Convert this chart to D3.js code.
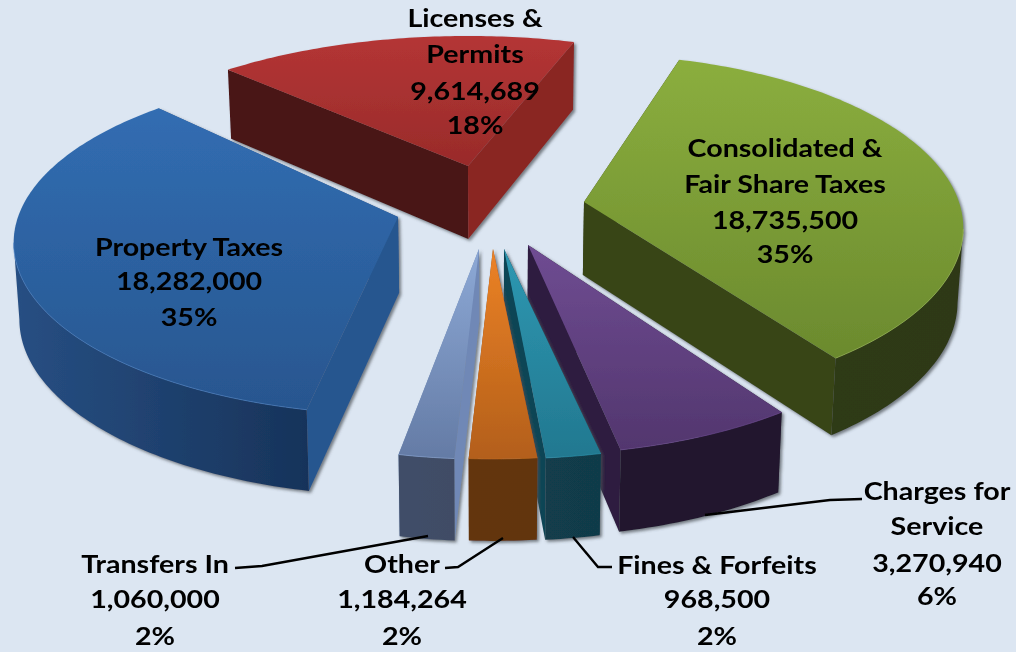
<!DOCTYPE html>
<html><head><meta charset="utf-8">
<script src="https://cdn.jsdelivr.net/npm/d3@7/dist/d3.min.js"></script>
<style>html,body{margin:0;padding:0;background:#dce6f2;overflow:hidden}svg{display:block}</style>
</head><body><div id="chart"></div>
<script>
// ---- data ----
const categories = ["Consolidated & Fair Share Taxes","Charges for Service","Fines & Forfeits","Other","Transfers In","Property Taxes","Licenses & Permits"];
const values = [18735500,3270940,968500,1184264,1060000,18282000,9614689];
const percentLabels = ["35%","6%","2%","2%","2%","35%","18%"];
const nameLines = [["Consolidated &","Fair Share Taxes"],["Charges for","Service"],["Fines & Forfeits"],["Other"],["Transfers In"],["Property Taxes"],["Licenses &","Permits"]];

// ---- layout of the exploded 3D projection (not data) ----
const W=1016,H=652,pieStart=19.4*Math.PI/180;
const geom = [
 {ax:584,ay:202,rx:375,ry:170,p:.15,rot:-2.5,h:73},
 {ax:528,ay:245,rx:372,ry:160.6,p:.235,rot:.4,h:73},
 {ax:504,ay:249,rx:376,ry:160.6,p:.235,rot:0,h:73},
 {ax:493,ay:249,rx:376,ry:160.6,p:.235,rot:-.3,h:73},
 {ax:479,ay:249,rx:345,ry:160.6,p:.235,rot:0,h:73},
 {ax:398,ay:217,rx:380,ry:168,p:.15,rot:1.5,h:76},
 {ax:468,ay:166,rx:390,ry:160.6,p:.235,rot:0,h:73}
];
const styles = [
 {top:["#8bae3e","#6b8a2e"],start:"#384517",end:"#384517",rim:["#2f3a14","#2e3913"],edge:"#9dbb55"},
 {top:["#6f4c92","#52366e"],start:"#2d1c3f",end:"#2d1c3f",rim:["#21172f","#20162d"],edge:"#6f4c92"},
 {top:["#2e98b2","#227890"],start:"#0f4555",end:"#0f4555",rim:["#123d4c","#113a49"],edge:"#2e98b2"},
 {top:["#ec8226","#b35f1a"],start:"#8a4a12",end:"#8a4a12",rim:["#63350f","#62340e"],edge:"#c06a1e"},
 {top:["#8da9d6","#647ba5"],start:"#6f88b6",end:"#6f88b6",rim:["#3f4e68","#3f4c65"],edge:"#8da9d6"},
 {top:["#316db2","#28568f"],start:"#27578f",end:"#27578f",rim:["#274f83","#17335a"],edge:"#4f86c8"},
 {top:["#b43535","#992b2a"],start:"#4a1212",end:"#8a2523",rim:["#4a1212","#8a2523"],edge:"#b43535"}
];
const drawOrder=[6,0,5,1,4,2,3];
const labelPos=[
 {x:785,ys:[157,193,229,263]},
 {x:937,ys:[500,535,572,605]},
 {x:717,ys:[574,608,645]},
 {x:402,ys:[573,608,645]},
 {x:155,ys:[573,608,645]},
 {x:189,ys:[256,290,326]},
 {x:475,ys:[27,63,100,134]}
];
const leaders=[
 [[862,499],[830,500],[705,515]],
 [[612,567],[598,567],[573,537]],
 [[445,568],[458,567],[503,538]],
 [[235,568],[262,566],[428,536]]
];
const LEAN_X=490,LEAN=.012,TEXT_STRETCH=1.145;

const svg=d3.select("#chart").append("svg").attr("width",W).attr("height",H);
svg.append("rect").attr("width",W).attr("height",H).attr("fill","#dce6f2");
const defs=svg.append("defs");
defs.append("filter").attr("id","soft").attr("x","-5%").attr("y","-5%").attr("width","110%").attr("height","110%")
  .append("feGaussianBlur").attr("stdDeviation",.45);
const sh=defs.append("filter").attr("id","shadow").attr("x","-10%").attr("y","-10%").attr("width","120%").attr("height","120%");
sh.append("feDropShadow").attr("dx",2).attr("dy",2).attr("stdDeviation",1.8).attr("flood-color","#4a4f55").attr("flood-opacity",.7);

function grad(id,c,horizontal){
  const g=defs.append("linearGradient").attr("id",id).attr("x1",0).attr("y1",0).attr("x2",horizontal?1:0).attr("y2",horizontal?0:1);
  g.append("stop").attr("offset",0).attr("stop-color",c[0]);
  g.append("stop").attr("offset",1).attr("stop-color",c[1]);
}
styles.forEach((s,i)=>{grad("top"+i,s.top,false);grad("rim"+i,s.rim,true);});

const arcs=d3.pie().sort(null).value(d=>d).startAngle(pieStart).endAngle(pieStart+2*Math.PI)(values);
const line=d3.line();
const root=svg.append("g").attr("filter","url(#soft)");

function project(g){
  const sx=d3.scaleLinear().domain([-1,1]).range([g.ax-g.rx,g.ax+g.rx]);
  const sy=d3.scaleLinear().domain([-1,1]).range([g.ay-g.ry,g.ay+g.ry]);
  const top=t=>{const u=Math.sin(t),v=-Math.cos(t),w=1/(1-g.p*v);return {x:sx(u*w),y:sy(v*w),w};};
  const down=q=>[q.x+(LEAN_X-q.x)*LEAN,q.y+q.h];
  return {top,down,hAt:w=>g.h*(1+.4*(w-1)),apexTop:[g.ax,g.ay],apexDown:[g.ax+(LEAN_X-g.ax)*LEAN,g.ay+g.h]};
}

drawOrder.forEach(i=>{
  const g=geom[i],a=arcs[i],P=project(g),rot=g.rot*Math.PI/180;
  const t0=a.startAngle+rot,t1=a.endAngle+rot;
  const n=Math.max(6,Math.ceil((t1-t0)*60));
  const rim=d3.range(n+1).map(k=>{const q=P.top(t0+(t1-t0)*k/n);q.h=P.hAt(q.w);return q;});
  const rimTop=rim.map(q=>[q.x,q.y]),rimBot=rim.map(q=>P.down(q));
  const gg=root.append("g").attr("filter","url(#shadow)");
  gg.append("path").attr("d",line([P.apexTop,rimTop[0],rimBot[0],P.apexDown])+"Z").attr("fill",styles[i].start);
  gg.append("path").attr("d",line([P.apexTop,rimTop[n],rimBot[n],P.apexDown])+"Z").attr("fill",styles[i].end);
  // only the part of the rim that faces the viewer (x falling as the angle grows)
  const facing=d3.range(n+1).filter(k=>(k<n&&rim[k+1].x<rim[k].x)||(k>0&&rim[k].x<rim[k-1].x));
  if(facing.length>1){
    const ft=facing.map(k=>rimTop[k]),fb=facing.map(k=>rimBot[k]);
    gg.append("path").attr("d",line(ft.concat(fb.slice().reverse()))+"Z").attr("fill",`url(#rim${i})`);
  }
  gg.append("path").attr("d",line([P.apexTop].concat(rimTop))+"Z").attr("fill",`url(#top${i})`);
  if(facing.length>1){
    gg.append("path").attr("d",line(facing.map(k=>rimTop[k]))).attr("fill","none").attr("stroke",styles[i].edge).attr("stroke-width",1).attr("stroke-opacity",.6);
  }
});

// leader lines
root.selectAll("path.leader").data(leaders).join("path").attr("class","leader")
  .attr("d",d=>line(d)).attr("fill","none").attr("stroke","#000").attr("stroke-width",2.4);

// labels
categories.forEach((c,i)=>{
  const lines=nameLines[i].concat([d3.format(",")(values[i]),percentLabels[i]]);
  root.append("g").selectAll("text").data(lines).join("text").attr("text-anchor","middle")
    .attr("font-family","Lato, 'Noto Sans', sans-serif").attr("font-weight",700).attr("font-size",25).attr("fill","#000")
    .attr("transform",(d,k)=>`translate(${labelPos[i].x},${labelPos[i].ys[k]}) scale(${TEXT_STRETCH},1)`).text(d=>d);
});
</script></body></html>
